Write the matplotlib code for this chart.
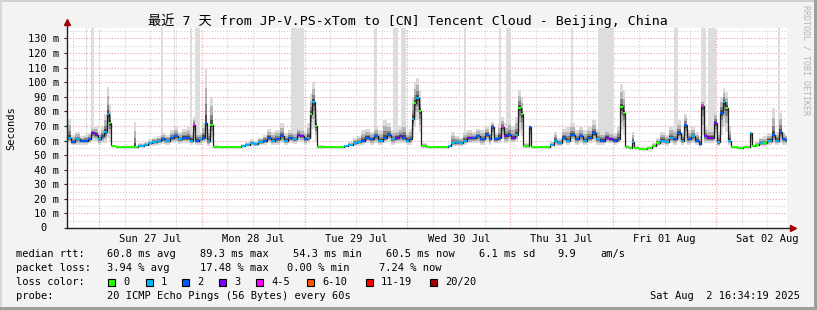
import matplotlib
matplotlib.use("Agg")
import matplotlib.pyplot as plt
from matplotlib.patches import Rectangle
import numpy as np

# time axis: hours since Sat 26 Jul 00:00
hours = [16.6, 17.5, 18.5, 19.5, 20.5, 21.5, 22.2, 23.0, 23.8, 24.5, 25.2, 25.8, 26.4,
         26.8, 28.0, 29.5, 31.0, 32.2, 32.6,
         33.2, 34.5, 35.5, 36.5, 37.5, 38.5, 39.5, 40.5, 41.5, 42.5, 43.5, 44.5, 45.2, 45.9,
         46.5, 47.3, 48.0, 48.7, 49.3, 50.0,
         50.6, 52.0, 53.5, 55.0, 56.3,
         57.2, 58.2, 59.2, 60.2, 61.2, 62.2, 63.2, 64.2, 65.2, 66.2, 67.2, 68.2, 69.2, 70.2,
         71.0, 71.8, 72.5, 73.2, 73.8, 74.4,
         74.9, 76.5, 78.0, 79.5, 80.5,
         81.2, 82.2, 83.2, 84.2, 85.2, 86.2, 87.2, 88.2, 89.2, 90.2, 91.2, 92.2, 93.2, 94.0,
         94.8, 95.6, 96.4, 97.0, 97.5, 98.0, 98.6,
         99.2, 100.5, 102.0, 103.5, 104.8,
         105.5, 106.2, 107.0, 108.0, 109.0, 110.0, 111.0, 112.0, 113.0, 114.0, 115.0, 115.5,
         116.2, 117.2, 117.9, 118.6, 119.4, 120.2, 121.0, 121.7, 122.4, 123.0, 124.3, 124.9,
         126.3, 127.8,
         129.2, 130.3, 131.0, 132.0, 133.0, 134.0, 135.0, 136.0, 137.0, 138.0, 139.0, 140.0,
         141.0, 142.0, 143.0, 144.0, 144.8, 145.5, 146.2,
         146.8, 147.6, 148.4, 148.9, 150.0, 151.0, 152.0,
         153.0, 154.0, 155.0, 156.0, 157.0, 158.0, 159.0, 159.8, 160.5, 161.3, 162.2, 163.2,
         164.0, 164.6, 165.2, 166.0, 166.8, 167.5, 168.3, 169.0, 169.6, 170.2, 170.9,
         171.5, 172.8, 174.3, 176.0, 176.5,
         177.0, 178.0, 179.0, 180.0, 181.0, 181.8, 182.6, 183.4, 184.0, 184.6]

# median rtt in ms
rtt = [62, 59, 61, 60, 60, 61, 65, 64, 61, 63, 66, 78, 72,
       56, 55.5, 55.5, 55.5, 55.5, 55.5,
       56.5, 57, 58, 59, 60, 61, 60, 62, 63, 61, 62, 62, 60, 70.5,
       60, 61, 62, 72, 60, 71,
       55.5, 55.5, 55.5, 55.5, 55.5,
       56, 57, 58, 57.5, 59, 60, 62, 60, 61, 63, 60, 62, 61, 64,
       63, 61, 62, 78, 86.5, 70,
       55.5, 55.5, 55.5, 55.5, 55.5,
       56, 57, 58, 59, 60, 62, 61, 63, 60, 62, 64, 61, 62, 63,
       62, 60, 61, 75, 86, 89.3, 80,
       56, 55.5, 55.5, 55.5, 55.5,
       56, 58, 59, 58.5, 60, 61.5, 62, 63, 61, 64, 61, 69,
       61, 62, 69, 63, 64, 62, 64, 82.5, 78, 56, 69, 55.5,
       55.5, 55.5,
       57, 60, 58, 62, 60, 64, 61, 63, 60, 62, 65, 61,
       60, 62, 61, 60, 61, 83, 79,
       55.5, 55, 59.3, 55, 54.5, 54.3, 55,
       56.5, 58, 60, 59, 62, 61, 65, 60, 70.5, 61, 63, 60,
       57.5, 84, 63, 62, 62, 72, 59, 79, 86.7, 82.6, 60,
       55.5, 55, 55.3, 65, 56,
       57, 58.5, 58, 60, 64, 60, 66, 61, 60.5, 60.5]

# lost pings out of 20 (index into loss_labels)
loss = [1, 2, 1, 2, 2, 2, 3, 3, 1, 2, 1, 1, 0,
        0, 0, 0, 0, 0, 0,
        1, 1, 1, 1, 1, 2, 1, 2, 2, 1, 2, 2, 1, 4,
        2, 1, 2, 2, 1, 0,
        0, 0, 0, 0, 0,
        1, 1, 1, 1, 1, 2, 2, 1, 2, 2, 1, 2, 1, 3,
        3, 2, 1, 0, 1, 0,
        0, 0, 0, 0, 0,
        1, 1, 1, 1, 2, 2, 2, 2, 1, 2, 2, 1, 3, 3,
        2, 1, 2, 1, 0, 1, 0,
        0, 0, 0, 0, 0,
        1, 1, 1, 1, 1, 3, 2, 2, 2, 2, 2, 2,
        2, 2, 4, 3, 2, 3, 1, 0, 0, 0, 2, 0,
        0, 0,
        1, 1, 1, 2, 1, 2, 2, 2, 1, 2, 2, 1,
        2, 3, 3, 2, 2, 0, 0,
        0, 0, 1, 0, 0, 0, 0,
        0, 0, 1, 1, 1, 2, 2, 1, 2, 2, 1, 2,
        2, 4, 3, 3, 3, 3, 1, 2, 1, 0, 1,
        0, 0, 0, 1, 0,
        0, 1, 0, 1, 2, 1, 2, 2, 2, 2]

# fastest / slowest ping of each round (smoke)
ping_min = [58, 57, 57, 57, 57, 58, 60, 59, 57, 58, 58, 62, 60,
            55.5, 55, 55, 55, 55, 55,
            55.5, 56, 56, 56.5, 57, 57.5, 57, 58, 58, 57.5, 58, 58, 57, 60,
            57, 57, 58, 60, 56, 58,
            55, 55, 55, 55, 55,
            55.5, 56, 56, 56, 57, 57, 58, 57, 57, 58, 57, 58, 57.5, 59,
            59, 57, 58, 62, 68, 60,
            55, 55, 55, 55, 55,
            55.5, 56, 56, 56.5, 57, 58, 57, 58, 57, 58, 59, 57, 58, 58,
            58, 57, 57, 62, 70, 74, 66,
            55, 55, 55, 55, 55,
            55.5, 56, 56, 56, 57, 58, 58, 58, 57, 59, 57, 60,
            58, 58, 61, 58, 59, 58, 59, 66, 63, 55, 56, 55,
            55, 55,
            56, 57, 56, 58, 57, 59, 57, 58, 57, 58, 59, 57,
            57, 58, 58, 57, 58, 67, 64,
            55, 54.5, 55, 54.5, 54, 54, 54.5,
            55.5, 56, 57, 56.5, 58, 57, 59, 57, 59, 57, 58, 57,
            55.5, 64, 58, 58, 58, 60, 56, 64, 70, 66, 57,
            55, 54.5, 55, 56, 55.5,
            55.5, 56, 56, 57, 58, 57, 58, 57, 57, 57]

ping_max = [75, 64, 66, 63, 64, 65, 69, 70, 66, 70, 78, 97, 85,
            57, 56.5, 56.5, 56.5, 73, 56.5,
            58, 59, 61, 62, 63, 65, 64, 67, 70, 66, 68, 69, 66, 76,
            66, 65, 72, 109, 68, 90,
            57, 56.5, 56.5, 56.5, 56.5,
            57.5, 59, 61, 60, 62, 64, 68, 66, 67, 72, 65, 67, 66, 69,
            68, 66, 72, 92, 100, 82,
            57, 56.5, 56.5, 56.5, 56.5,
            57, 59, 62, 63, 67, 68, 66, 70, 67, 74, 72, 67, 68, 70,
            73, 66, 68, 90, 100, 103, 95,
            58, 56.5, 56.5, 56.5, 56.5,
            57, 66, 63, 62, 66, 67, 66, 68, 67, 70, 66, 73,
            65, 72, 76, 72, 74, 70, 76, 95, 90, 58, 71, 56.5,
            56.5, 56.5,
            59, 66, 62, 68, 69, 72, 67, 70, 67, 69, 74, 68,
            66, 68, 66, 65, 70, 99, 94,
            57, 56, 66, 56, 55.5, 55.5, 56,
            58, 62, 66, 64, 70, 68, 74, 66, 78, 67, 70, 66,
            63, 88, 70, 68, 68, 80, 66, 90, 96, 93, 70,
            56.5, 56, 56, 66, 57,
            59, 62, 63, 65, 82, 66, 79, 66, 64, 64]

# periods drawn as full-height gray columns
gap_start = [21.0, 22.1, 38.5, 41.5, 45.2, 46.4, 68.8, 88.2, 92.6, 94.5, 109.2, 117.4,
             119.0, 134.2, 140.5, 158.3, 164.5, 166.2, 182.5]
gap_end = [21.3, 22.8, 39.0, 41.8, 45.7, 47.6, 71.9, 88.9, 93.8, 95.7, 109.7, 117.9,
           120.2, 134.7, 144.2, 159.2, 165.7, 168.0, 183.0]

t_start = 16.57
t_end = 184.57

loss_labels = ["0", "1", "2", "3", "4-5", "6-10", "11-19", "20/20"]
loss_colors = ["#26ff00", "#00b8ff", "#0059ff", "#7e00ff", "#ff00ff", "#ff5500", "#ff0000", "#a10000"]

day_ticks = [36, 60, 84, 108, 132, 156, 180]
day_labels = ["Sun 27 Jul", "Mon 28 Jul", "Tue 29 Jul", "Wed 30 Jul", "Thu 31 Jul", "Fri 01 Aug", "Sat 02 Aug"]
y_ticks = [0, 10, 20, 30, 40, 50, 60, 70, 80, 90, 100, 110, 120, 130]
y_tick_labels = ["", "10 m", "20 m", "30 m", "40 m", "50 m", "60 m", "70 m", "80 m",
                 "90 m", "100 m", "110 m", "120 m", "130 m"]

title = "最近 7 天 from JP-V.PS-xTom to [CN] Tencent Cloud - Beijing, China"
stats_rtt = ["60.8 ms avg", "89.3 ms max", "54.3 ms min", "60.5 ms now", "6.1 ms sd", "9.9", "am/s"]
stats_loss = ["3.94 % avg", "17.48 % max", "0.00 % min", "7.24 % now"]
probe = "20 ICMP Echo Pings (56 Bytes) every 60s"
stamp = "Sat Aug  2 16:34:19 2025"

MONO = ["DejaVu Sans Mono", "Noto Sans CJK SC"]
W, H = 817, 310


def fx(px):
    return px / W


def fy(py):
    return 1 - py / H


plt.rcParams["font.family"] = MONO
fig = plt.figure(figsize=(W / 100, H / 100), dpi=100, facecolor="#f3f3f3")
ax = fig.add_axes([fx(67), fy(228), 720 / W, 200 / H])
ax.set_facecolor("white")
y_top = 137.2
ax.set_xlim(t_start, t_end)
ax.set_ylim(0, y_top)

# grid
for v in np.arange(5, 136, 5):
    major = v % 10 == 0
    ax.axhline(v, color="#f0a0a0" if major else "#d4d4d4", lw=0.8,
               ls=(0, (1, 1.5)), zorder=0.5)
for hh in range(18, 185, 6):
    major = hh % 24 == 0
    ax.axvline(hh, color="#f0a0a0" if major else "#d4d4d4", lw=0.8,
               ls=(0, (1, 1.5)), zorder=0.5)

for s, e in zip(gap_start, gap_end):
    ax.fill_between([s, e], 64, y_top, color="#dddddd", lw=0, zorder=1)

h = np.array(hours)
med = np.array(rtt, dtype=float)
lo = np.array(ping_min, dtype=float)
hi = np.array(ping_max, dtype=float)
for f, c in [(1.0, "#dadada"), (0.65, "#b4b4b4"), (0.35, "#848484"), (0.15, "#4c4c4c")]:
    ax.fill_between(h, med - f * (med - lo), med + f * (hi - med), step="post",
                    color=c, lw=0, zorder=2)

ax.step(h, med, where="post", color="#202020", lw=0.9, zorder=3)
for i in range(len(h) - 1):
    ax.hlines(med[i], h[i], h[i + 1], color=loss_colors[loss[i]], lw=1.4, zorder=4)

# axes
for s in ax.spines.values():
    s.set_visible(False)
ax.plot([0, 1.007], [0, 0], transform=ax.transAxes, color="#202020", lw=1, clip_on=False, zorder=5)
ax.plot([0, 0], [0, 1.025], transform=ax.transAxes, color="#202020", lw=1, clip_on=False, zorder=5)
ax.plot([1.008], [0], marker=">", ms=4, color="#a00000", transform=ax.transAxes, clip_on=False, zorder=6)
ax.plot([0], [1.028], marker="^", ms=4, color="#a00000", transform=ax.transAxes, clip_on=False, zorder=6)

ax.set_yticks(y_ticks)
ax.set_yticklabels(y_tick_labels)
ax.set_xticks(day_ticks)
ax.set_xticklabels(day_labels)
ax.tick_params(axis="y", length=2, width=0.8, color="#202020", pad=3.5, labelsize=7.5)
ax.tick_params(axis="x", length=0, pad=4, labelsize=7.5)
fig.text(fx(47), fy(228), "0", ha="right", va="center", fontsize=7.5)

fig.text(fx(408), fy(21), title, ha="center", va="center", fontsize=9.5, family=MONO)
fig.text(fx(11), fy(128), "Seconds", rotation=90, ha="center", va="center", fontsize=7.5)
fig.text(fx(806), fy(60), "RRDTOOL / TOBI OETIKER", rotation=270, ha="center", va="center",
         fontsize=6, color="#b4b4b4")

# legend
fs = 7.5
fig.text(fx(16), fy(254), "median rtt:", va="center", fontsize=fs)
for x, s in zip([107, 200, 293, 386, 479, 557, 600], stats_rtt):
    fig.text(fx(x), fy(254), s, va="center", fontsize=fs)
fig.text(fx(16), fy(268), "packet loss:", va="center", fontsize=fs)
for x, s in zip([107, 200, 287, 379], stats_loss):
    fig.text(fx(x), fy(268), s, va="center", fontsize=fs)
fig.text(fx(16), fy(282), "loss color:", va="center", fontsize=fs)
for x, lab, c in zip([108, 146, 182, 219, 256, 307, 366, 430], loss_labels, loss_colors):
    fig.add_artist(Rectangle((fx(x), fy(286)), 7 / W, 7 / H, transform=fig.transFigure,
                             facecolor=c, edgecolor="black", lw=0.8))
    fig.text(fx(x + 15), fy(282), lab, va="center", fontsize=fs)
fig.text(fx(16), fy(296), "probe:", va="center", fontsize=fs)
fig.text(fx(107), fy(296), probe, va="center", fontsize=fs)
fig.text(fx(800), fy(296), stamp, ha="right", va="center", fontsize=fs)

# frame
fig.add_artist(Rectangle((0, fy(2)), 1, 2 / H, transform=fig.transFigure, color="#d0d0d0", lw=0))
fig.add_artist(Rectangle((0, 0), 2 / W, 1, transform=fig.transFigure, color="#d8d8d8", lw=0))
fig.add_artist(Rectangle((0, 0), 1, 3 / H, transform=fig.transFigure, color="#9e9e9e", lw=0))
fig.add_artist(Rectangle((fx(814), 0), 3 / W, 1, transform=fig.transFigure, color="#9e9e9e", lw=0))

fig.savefig("out.png", dpi=100, facecolor=fig.get_facecolor())
